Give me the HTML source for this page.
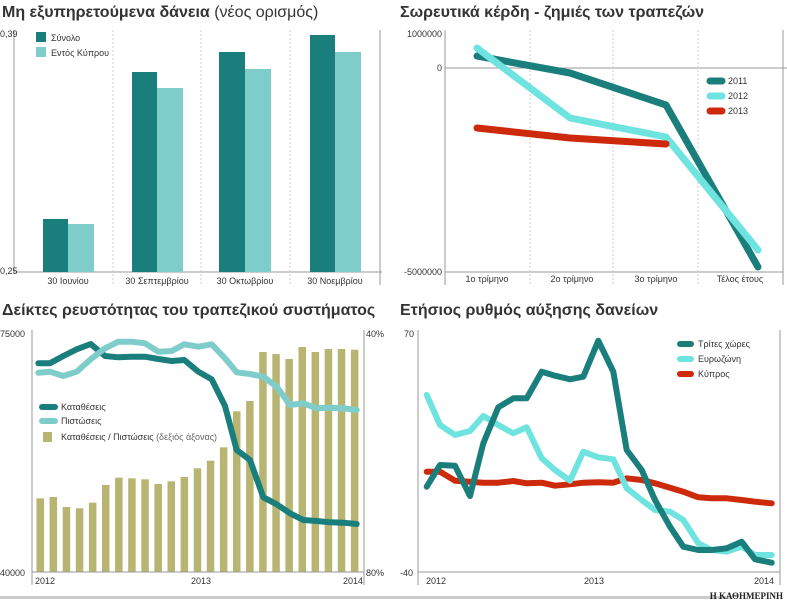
<!DOCTYPE html><html><head><meta charset="utf-8"><style>
body{margin:0;background:#fff;}
svg{display:block;font-family:"Liberation Sans","DejaVu Sans",sans-serif;}
</style></head><body>
<svg id="s" width="787" height="600" viewBox="0 0 787 600" xmlns="http://www.w3.org/2000/svg">
<g font-size="16" fill="#333" font-family="'Liberation Sans Narrow','Liberation Sans',sans-serif">
<text x="2" y="17" font-weight="bold">Μη εξυπηρετούμενα δάνεια <tspan font-weight="normal">(νέος ορισμός)</tspan></text>
<text x="400" y="17" font-weight="bold">Σωρευτικά κέρδη - ζημιές των τραπεζών</text>
<text x="2" y="315" font-weight="bold">Δείκτες ρευστότητας του τραπεζικού συστήματος</text>
<text x="400" y="315" font-weight="bold">Ετήσιος ρυθμός αύξησης δανείων</text>
</g>
<g font-size="9" fill="#333">
<!-- chart 1 -->
<line x1="14" y1="30" x2="14" y2="272" stroke="#999"/>
<line x1="380" y1="30" x2="380" y2="285" stroke="#999"/>
<line x1="14" y1="272" x2="382" y2="272" stroke="#999"/>
<g stroke="#ccc" stroke-dasharray="2,2"><line x1="113" y1="30" x2="113" y2="285"/><line x1="201" y1="30" x2="201" y2="285"/><line x1="290" y1="30" x2="290" y2="285"/></g>
<text x="0" y="37">0,39</text><text x="0" y="274">0,25</text>
<g fill="#1a7f7c"><rect x="43" y="219" width="25" height="53"/><rect x="132" y="72" width="25" height="200"/><rect x="219" y="52" width="26" height="220"/><rect x="310" y="35" width="25" height="237"/><rect x="36" y="32" width="10" height="10"/></g>
<g fill="#7ecdca"><rect x="68" y="224" width="26" height="48"/><rect x="157" y="88" width="26" height="184"/><rect x="245" y="69" width="26" height="203"/><rect x="335" y="52" width="26" height="220"/><rect x="36" y="47" width="10" height="10"/></g>
<text x="51" y="41">Σύνολο</text><text x="51" y="56">Εντός Κύπρου</text>
<g text-anchor="middle"><text x="68" y="284">30 Ιουνίου</text><text x="157" y="284">30 Σεπτεμβρίου</text><text x="245" y="284">30 Οκτωβρίου</text><text x="335" y="284">30 Νοεμβρίου</text></g>
<!-- chart 2 -->
<line x1="445" y1="30" x2="445" y2="285" stroke="#999"/>
<line x1="783" y1="30" x2="783" y2="285" stroke="#999"/>
<line x1="445" y1="68" x2="787" y2="68" stroke="#999"/>
<line x1="445" y1="272" x2="783" y2="272" stroke="#999"/>
<g stroke="#ccc" stroke-dasharray="2,2"><line x1="530" y1="30" x2="530" y2="285"/><line x1="613" y1="30" x2="613" y2="285"/><line x1="698" y1="30" x2="698" y2="285"/></g>
<g text-anchor="end"><text x="442" y="37">1000000</text><text x="442" y="71">0</text><text x="442" y="275">-5000000</text></g>
<g fill="none" stroke-width="7" stroke-linecap="round" stroke-linejoin="round">
<polyline stroke="#1a7f7c" points="477,56 570,73 666,105 758,267"/>
<polyline stroke="#6ee3e0" points="477,48 570,118 666,137 758,250"/>
<polyline stroke="#cc2a0a" points="477,128 570,138 666,144"/>
<line x1="710" y1="81" x2="722" y2="81" stroke="#1a7f7c"/><line x1="710" y1="96" x2="722" y2="96" stroke="#6ee3e0"/><line x1="710" y1="111" x2="722" y2="111" stroke="#cc2a0a"/>
</g>
<text x="728" y="84">2011</text><text x="728" y="99">2012</text><text x="728" y="114">2013</text>
<g text-anchor="middle"><text x="487" y="282">1ο τρίμηνο</text><text x="572" y="282">2ο τρίμηνο</text><text x="656" y="282">3ο τρίμηνο</text><text x="740" y="282">Τέλος έτους</text></g>
<!-- chart 3 -->
<g id="bars3" fill="#b8b573"></g>
<line x1="32" y1="330" x2="32" y2="585" stroke="#999"/>
<line x1="364" y1="330" x2="364" y2="585" stroke="#999"/>
<line x1="32" y1="572" x2="364" y2="572" stroke="#999"/>
<text x="0" y="337">75000</text><text x="0" y="576">40000</text>
<text x="366" y="337">40%</text><text x="366" y="576">80%</text>
<text x="35" y="584">2012</text><text x="191" y="584">2013</text><text x="343" y="584">2014</text>
<polyline id="k3" fill="none" stroke="#1a7f7c" stroke-width="6" stroke-linejoin="round" stroke-linecap="round"/>
<polyline id="p3" fill="none" stroke="#7ecdca" stroke-width="6" stroke-linejoin="round" stroke-linecap="round"/>
<line x1="42" y1="407" x2="55" y2="407" stroke="#1a7f7c" stroke-width="6" stroke-linecap="round"/>
<line x1="42" y1="421" x2="55" y2="421" stroke="#7ecdca" stroke-width="6" stroke-linecap="round"/>
<rect x="43" y="432" width="9" height="10" fill="#b8b573"/>
<text x="61" y="410">Καταθέσεις</text><text x="61" y="424">Πιστώσεις</text><text x="61" y="440">Καταθέσεις / Πιστώσεις <tspan fill="#666">(δεξιός άξονας)</tspan></text>
<!-- chart 4 -->
<line x1="418" y1="330" x2="418" y2="585" stroke="#999"/>
<line x1="780" y1="330" x2="780" y2="585" stroke="#999"/>
<line x1="418" y1="572" x2="780" y2="572" stroke="#999"/>
<text x="404" y="337">70</text><text x="400" y="576">-40</text>
<text x="426" y="584">2012</text><text x="584" y="584">2013</text><text x="754" y="584">2014</text>
<polyline id="k4" fill="none" stroke="#cc2a0a" stroke-width="6" stroke-linejoin="round" stroke-linecap="round"/>
<polyline id="e4" fill="none" stroke="#6ee3e0" stroke-width="6" stroke-linejoin="round" stroke-linecap="round"/>
<polyline id="t4" fill="none" stroke="#1a7f7c" stroke-width="6" stroke-linejoin="round" stroke-linecap="round"/>
<g stroke-width="6" stroke-linecap="round"><line x1="680" y1="344" x2="691" y2="344" stroke="#1a7f7c"/><line x1="680" y1="359" x2="691" y2="359" stroke="#6ee3e0"/><line x1="680" y1="374" x2="691" y2="374" stroke="#cc2a0a"/></g>
<text x="698" y="347">Τρίτες χώρες</text><text x="698" y="362">Ευρωζώνη</text><text x="698" y="377">Κύπρος</text>
</g>
<rect x="0" y="596" width="730" height="3" fill="#ccc"/>
<text x="783" y="599" font-size="9" font-weight="bold" text-anchor="end" font-family="'Liberation Serif',serif" fill="#222">Η ΚΑΘΗΜΕΡΙΝΗ</text>
</svg>
<script>
var tops=[535,531,561,565,548,495,473,475,478,492,484,471,445,422,382,274,243,96,102,117,81,96,87,87,89];
var g=document.getElementById('bars3'),h='';
for(var i=0;i<25;i++){var x=36.5+i*13.1,y=320+tops[i]/3;h+='<rect x="'+x.toFixed(1)+'" y="'+y.toFixed(1)+'" width="7.5" height="'+(572-y).toFixed(1)+'"/>';}
g.innerHTML=h;
function pl(id,ox,oy,arr){var p=[];for(var i=0;i<arr.length;i+=2)p.push((ox+arr[i]/3).toFixed(1)+','+(oy+arr[i+1]/3).toFixed(1));document.getElementById(id).setAttribute('points',p.join(' '));}
pl('k3',0,320,[115,130,150,130,190,108,230,88,272,72,315,108,355,112,395,110,435,110,475,117,515,123,553,120,595,155,635,178,675,258,710,390,750,420,790,532,830,553,870,580,910,600,950,603,990,607,1030,608,1070,612]);
pl('p3',0,320,[115,158,150,155,190,168,230,155,272,118,315,85,355,65,395,65,435,70,475,95,515,93,553,73,595,80,635,73,675,115,710,157,750,162,790,170,830,200,870,255,910,250,950,265,990,263,1030,265,1070,270]);
pl('t4',395,320,[95,500,135,435,180,437,225,528,265,370,310,262,355,235,395,235,440,155,480,167,525,178,565,170,610,62,655,155,695,390,740,450,780,540,825,620,865,680,910,690,950,690,995,685,1040,665,1080,718,1130,728]);
pl('e4',395,320,[95,225,135,315,180,345,225,333,265,288,310,315,355,340,395,322,440,415,480,450,525,482,565,395,610,412,655,418,695,505,740,540,780,570,825,575,865,600,910,670,950,690,995,695,1040,680,1080,705,1130,705]);
pl('k4',395,320,[95,455,135,455,180,482,225,485,265,488,310,488,355,483,395,490,440,488,480,497,525,493,565,488,610,487,655,488,695,475,740,480,780,490,825,503,865,515,910,532,950,535,995,535,1040,540,1080,545,1130,550]);
</script>
</body></html>
